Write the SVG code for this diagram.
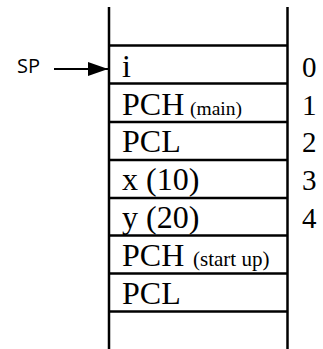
<svg xmlns="http://www.w3.org/2000/svg" width="323" height="349" viewBox="0 0 323 349">
  <style>
    .rule { stroke: #000; stroke-width: 2.5; fill: none; }
    .cell { font-family: "Liberation Serif", "Times New Roman", serif; font-size: 32px; fill: #000; }
    .note { font-family: "Liberation Serif", "Times New Roman", serif; font-size: 19.5px; fill: #000; }
    .idx { font-family: "Liberation Serif", "Times New Roman", serif; font-size: 29px; fill: #000; }
    .lbl { font-family: "Open Sans", "DejaVu Sans", sans-serif; font-size: 20px; fill: #000; }
  </style>
  <defs>
    <marker id="head" viewBox="0 0 20 14" refX="20" refY="7" markerWidth="20" markerHeight="14" markerUnits="userSpaceOnUse" orient="auto">
      <path d="M0,0 L20,7 L0,14 Z" fill="#000"/>
    </marker>
  </defs>

  <!-- stack frame: side walls and slot dividers -->
  <g id="stack">
    <line class="rule" x1="109" y1="7" x2="109" y2="349"/>
    <line class="rule" x1="287.5" y1="7" x2="287.5" y2="349"/>
    <line class="rule" x1="109" y1="45.5" x2="287.5" y2="45.5"/>
    <line class="rule" x1="109" y1="83.5" x2="287.5" y2="83.5"/>
    <line class="rule" x1="109" y1="122" x2="287.5" y2="122"/>
    <line class="rule" x1="109" y1="160" x2="287.5" y2="160"/>
    <line class="rule" x1="109" y1="198" x2="287.5" y2="198"/>
    <line class="rule" x1="109" y1="235.5" x2="287.5" y2="235.5"/>
    <line class="rule" x1="109" y1="273.5" x2="287.5" y2="273.5"/>
    <line class="rule" x1="109" y1="311.5" x2="287.5" y2="311.5"/>
  </g>

  <g id="slot0"><text class="cell" x="122" y="77">i</text><text class="idx" x="302" y="77">0</text></g>
  <g id="slot1"><text class="cell" x="122" y="115">PCH</text><text class="note" x="190" y="115">(main)</text><text class="idx" x="302" y="115">1</text></g>
  <g id="slot2"><text class="cell" x="122" y="152">PCL</text><text class="idx" x="302" y="152">2</text></g>
  <g id="slot3"><text class="cell" x="122" y="190">x (10)</text><text class="idx" x="302" y="190">3</text></g>
  <g id="slot4"><text class="cell" x="122" y="228">y (20)</text><text class="idx" x="302" y="228">4</text></g>
  <g id="slot5"><text class="cell" x="122" y="266">PCH</text><text class="note" x="193" y="266" style="font-size:21px">(start up)</text></g>
  <g id="slot6"><text class="cell" x="122" y="304">PCL</text></g>

  <g id="sp"><text class="lbl" x="17" y="73">SP</text></g>

  <g id="connectors">
    <line x1="54" y1="69" x2="108" y2="69" stroke="#000" stroke-width="2" marker-end="url(#head)"/>
  </g>
</svg>
